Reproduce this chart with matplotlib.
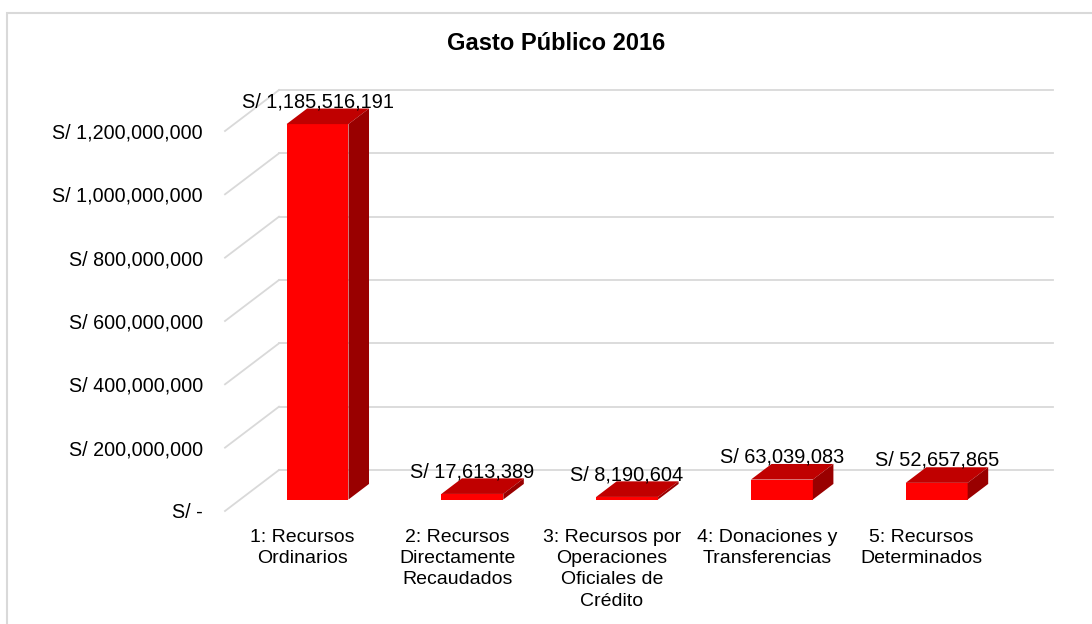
import matplotlib
matplotlib.use("Agg")
import matplotlib.pyplot as plt
from matplotlib.patches import Polygon, Rectangle

plt.rcParams['font.family'] = ['Liberation Sans', 'DejaVu Sans']

# data
categorias = ["1: Recursos\nOrdinarios",
              "2: Recursos\nDirectamente\nRecaudados",
              "3: Recursos por\nOperaciones\nOficiales de\nCrédito",
              "4: Donaciones y\nTransferencias",
              "5: Recursos\nDeterminados"]
gasto = [1185516191, 17613389, 8190604, 63039083, 52657865]
yticks = [0, 200000000, 400000000, 600000000, 800000000, 1000000000, 1200000000]
titulo = "Gasto Público 2016"

# pseudo 3d geometry (depth of the box in axis units)
DX = 0.349
DY = 0.1295e9
F_FRONT = 0.28   # bar front plane, fraction of depth
F_DEPTH = 0.38   # bar depth, fraction of depth
W = 0.4
GRID = '#D9D9D9'

W_PX, H_PX = 1092, 624
fig = plt.figure(figsize=(W_PX / 100, H_PX / 100), dpi=100)
ax = fig.add_axes([225 / W_PX, (H_PX - 511) / H_PX, 828 / W_PX, 427.5 / H_PX])
ax.set_xlim(-0.5, 4.5 + DX)
ax.set_ylim(0, 1.35e9)

# walls / gridlines
for v in yticks:
    ax.plot([-0.5, -0.5 + DX], [v, v + DY], color=GRID, lw=1.3, zorder=1, clip_on=False)
    ax.plot([-0.5 + DX, 4.5 + DX], [v + DY, v + DY], color=GRID, lw=1.3, zorder=1, clip_on=False)

# bars
for i, v in enumerate(gasto):
    x0 = i - W / 2 + F_FRONT * DX
    y0 = F_FRONT * DY
    dx, dy = F_DEPTH * DX, F_DEPTH * DY
    ax.bar(x0, v, width=W, bottom=y0, align='edge', color='#FF0000', zorder=3, linewidth=0)
    top = [(x0, y0 + v), (x0 + W, y0 + v), (x0 + W + dx, y0 + v + dy), (x0 + dx, y0 + v + dy)]
    side = [(x0 + W, y0), (x0 + W, y0 + v), (x0 + W + dx, y0 + v + dy), (x0 + W + dx, y0 + dy)]
    ax.add_patch(Polygon(top, closed=True, facecolor='#C00000', edgecolor='none', zorder=3))
    ax.add_patch(Polygon(side, closed=True, facecolor='#990000', edgecolor='none', zorder=3))
    ax.text(x0 + W / 2, y0 + v + dy + 0.004e9, "S/ {:,}".format(v), ha='center', va='baseline',
            fontsize=14.4, color='#000000', zorder=5, clip_on=False)

ax.set_yticks(yticks)
ax.set_yticklabels(["S/ -" if t == 0 else "S/ {:,}".format(t) for t in yticks])
ax.set_xticks(range(len(categorias)))
ax.set_xticklabels(categorias, linespacing=1.32)
ax.tick_params(axis='y', length=0, pad=16, labelsize=14.2)
ax.tick_params(axis='x', length=0, pad=13, labelsize=14)
for s in ax.spines.values():
    s.set_visible(False)
ax.patch.set_visible(False)

fig.text(556 / W_PX, 1 - 43 / H_PX, titulo, ha='center', va='center', fontsize=17, fontweight='bold')

# chart frame
fig.patches.append(Rectangle((7 / W_PX, -0.5), 2, 1.5 - 13 / H_PX, transform=fig.transFigure,
                             fill=False, edgecolor=GRID, linewidth=1.5))

fig.savefig("out.png", dpi=100)
